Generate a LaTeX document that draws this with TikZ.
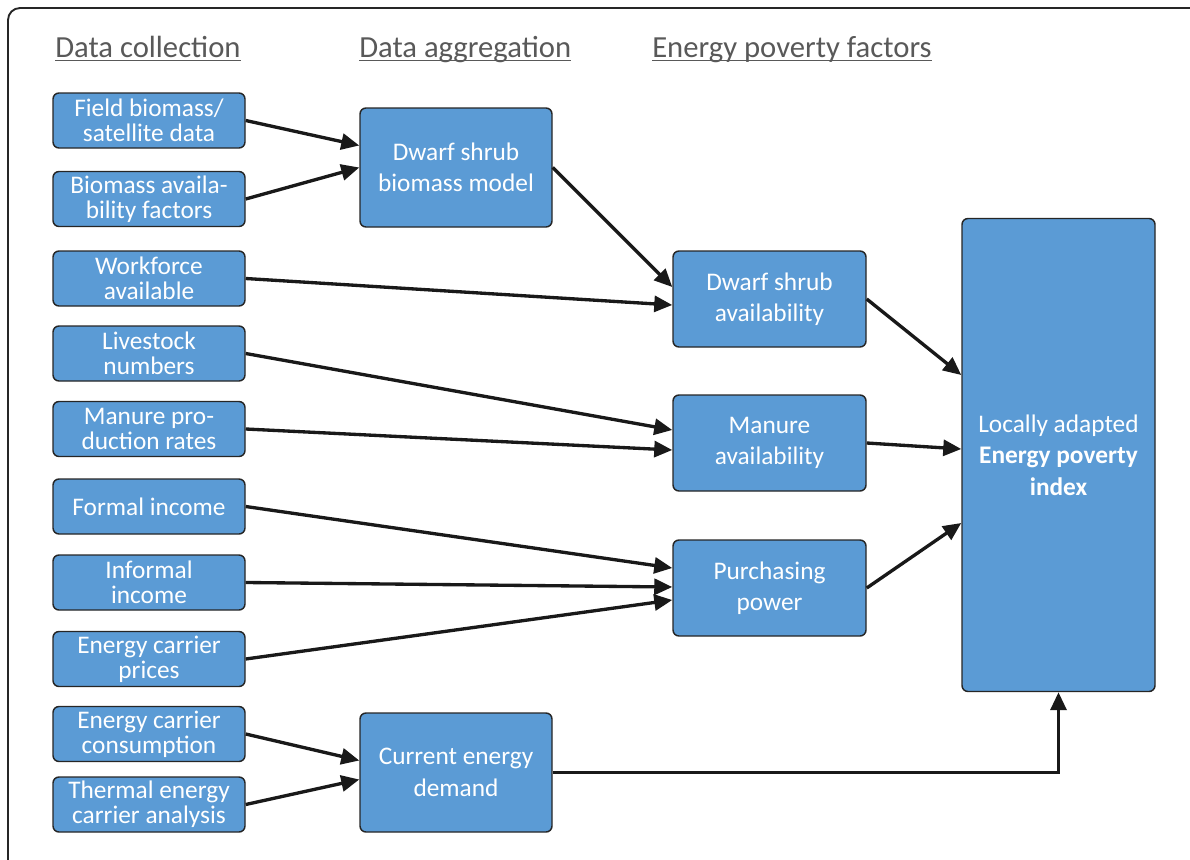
\documentclass[tikz,border=0pt]{standalone}
\usepackage{fontspec}
\setmainfont{Carlito}
\usepackage{tikz}
\usetikzlibrary{arrows.meta, positioning, calc}
\definecolor{boxblue}{RGB}{91,155,213}
\definecolor{hdgray}{RGB}{89,89,89}
% underline at a fixed depth, through the descenders
\newcommand{\hdul}[1]{\setbox0\hbox{#1}\rlap{\rule[-3.2pt]{\wd0}{1.2pt}}\box0}

\begin{document}
\begin{tikzpicture}[
    x=0.75pt, y=-0.75pt,
    box/.style={rectangle, rounded corners=4.5pt, draw=black!85, line width=1.1pt,
                fill=boxblue, text=white, align=center, inner sep=2pt,
                font=\fontsize{19}{23.5}\selectfont},
    src/.style={box, minimum width=144pt, minimum height=41.25pt,
                font=\fontsize{19}{19}\selectfont},
    agg/.style={box, minimum width=144pt, minimum height=89.25pt},
    fac/.style={box, minimum width=144.75pt, minimum height=72pt},
    idx/.style={box, minimum width=144.75pt, minimum height=354.75pt},
    hd/.style={anchor=base west, inner sep=0pt, text=hdgray,
               font=\fontsize{23}{27}\selectfont},
    arr/.style={-{Triangle[length=13.5pt, width=12pt]}, line width=2.5pt, black!90},
    frame/.style={draw=black!85, line width=1.4pt, rounded corners=9pt}
]
\useasboundingbox (0,0) rectangle (1190,860);
\draw[frame] (8,900) -- (8,8) -- (1230,8);

% column heads
\node[hd] (hcol) at (55,57)  {\hdul{Data collection}};
\node[hd] (hagg) at (359,57) {\hdul{Data aggregation}};
\node[hd] (hfac) at (652,57) {\hdul{Energy poverty factors}};

% data collection
\node[src] (fbio) at (149,120.5) {Field biomass/\\satellite data};
\node[src] (bfac) at (149,199)   {Biomass availa-\\bility factors};
\node[src] (work) at (149,278.5) {Workforce\\available};
\node[src] (live) at (149,353.5) {Livestock\\numbers};
\node[src] (manr) at (149,429)   {Manure pro-\\duction rates};
\node[src] (finc) at (149,506.5) {Formal income};
\node[src] (iinc) at (149,582.5) {Informal\\income};
\node[src] (ecp)  at (149,659)   {Energy carrier\\prices};
\node[src] (ecc)  at (149,734)   {Energy carrier\\consumption};
\node[src] (tec)  at (149,804.5) {Thermal energy\\carrier analysis};

% data aggregation
\node[agg] (dsbm) at (456,167.5) {Dwarf shrub\\biomass model};
\node[agg] (ced)  at (456,772.5) {Current energy\\demand};

% energy poverty factors
\node[fac] (dsa)  at (769.5,299) {Dwarf shrub\\availability};
\node[fac] (mav)  at (769.5,443) {Manure\\availability};
\node[fac] (ppow) at (769.5,588) {Purchasing\\power};

\node[idx] (epi)  at (1058.5,455) {Locally adapted\\\textbf{Energy poverty}\\\textbf{index}};

% connectors
\draw[arr] (fbio.east) -- ($(dsbm.west)+(0,-22)$);
\draw[arr] (bfac.east) -- (dsbm.west);
\draw[arr] (dsbm.east) -- ($(dsa.west)+(0,-12)$);
\draw[arr] (work.east) -- ($(dsa.west)+(0,6)$);
\draw[arr] (live.east) -- ($(mav.west)+(0,-13)$);
\draw[arr] (manr.east) -- ($(mav.west)+(0,7)$);
\draw[arr] (finc.east) -- ($(ppow.west)+(0,-20)$);
\draw[arr] (iinc.east) -- ($(ppow.west)+(0,-1)$);
\draw[arr] (ecp.east)  -- ($(ppow.west)+(0,12)$);
\draw[arr] (dsa.east)  -- ($(epi.west)+(0,-80)$);
\draw[arr] (mav.east)  -- ($(epi.west)+(0,-6)$);
\draw[arr] (ppow.east) -- ($(epi.west)+(0,68)$);
\draw[arr] (ecc.east)  -- ($(ced.west)+(0,-12)$);
\draw[arr] (tec.east)  -- ($(ced.west)+(0,7)$);
\draw[arr] (ced.east) -| (epi.south);
\end{tikzpicture}
\end{document}
